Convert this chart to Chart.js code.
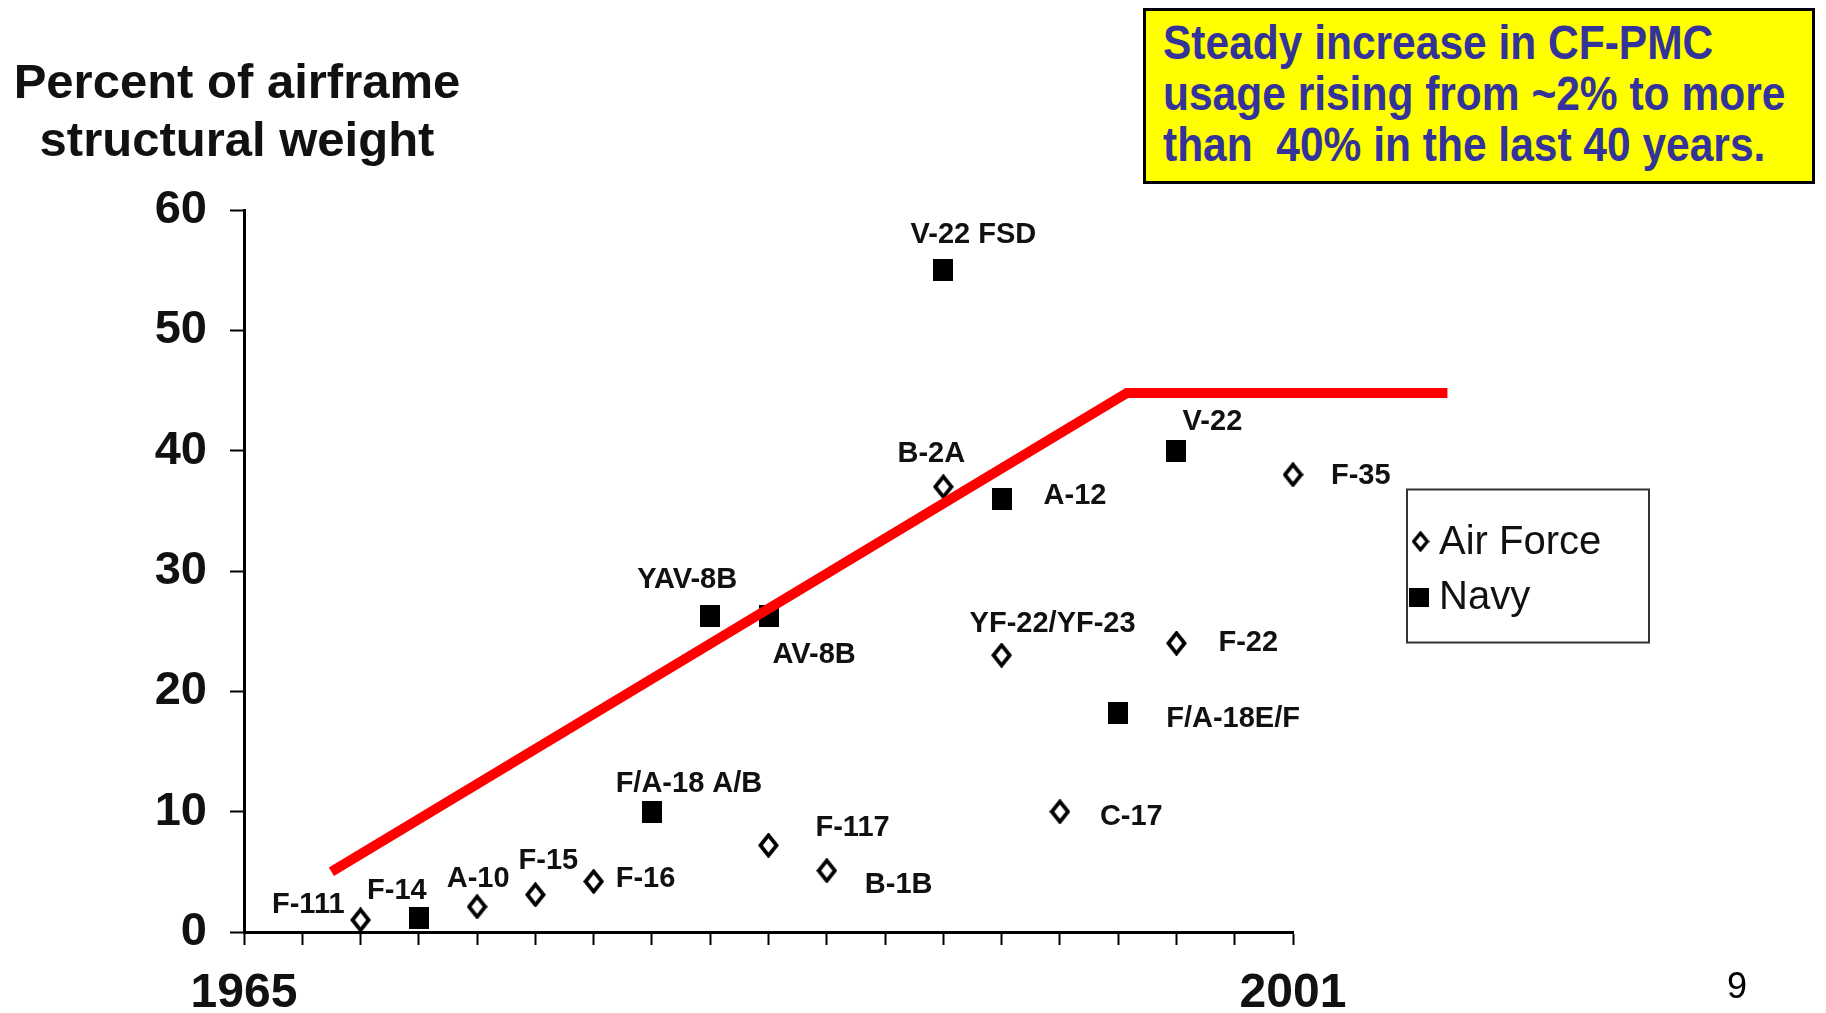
<!DOCTYPE html>
<html>
<head>
<meta charset="utf-8">
<script src="https://cdn.jsdelivr.net/npm/chart.js@4.4.1/dist/chart.umd.min.js"></script>
<style>
  html, body { margin: 0; padding: 0; background: #fff; }
  #wrap { position: relative; width: 1826px; height: 1013px; overflow: hidden; font-family: "Liberation Sans", Arial, sans-serif; }
  #chart { position: absolute; left: 0; top: 0; }
  #ytitle { position: absolute; left: 0; top: 52px; width: 474px; text-align: center; font-weight: bold; font-size: 49px; line-height: 58px; color: #111; }
  #note { position: absolute; left: 1143px; top: 8px; width: 666px; height: 170px; background: #ffff00; border: 3px solid #000; }
  #note div { position: absolute; left: 17px; top: 7px; white-space: pre; font-weight: bold; font-size: 42.5px; line-height: 44px; color: #333399; transform: scaleY(1.15); transform-origin: 0 0; }
  #page { position: absolute; left: 1727px; top: 968px; font-size: 36px; line-height: 36px; color: #000; }
</style>
</head>
<body>
<div id="wrap">
  <canvas id="chart" width="1826" height="1013"></canvas>
  <div id="ytitle">Percent of airframe<br>structural weight</div>
  <div id="note"><div>Steady increase in CF-PMC
usage rising from ~2% to more
than  40% in the last 40 years.</div></div>
  <div id="page">9</div>
</div>
<script>
// Air Force programs (open diamonds)
const afNames  = ['F-111', 'A-10', 'F-15', 'F-16', 'F-117', 'B-1B', 'B-2A', 'YF-22/YF-23', 'C-17', 'F-22', 'F-35'];
const afYears  = [1969, 1973, 1975, 1977, 1983, 1985, 1989, 1991, 1993, 1997, 2001];
const afValues = [1, 2.1, 3.1, 4.2, 7.2, 5.1, 37, 23, 10, 24, 38];

// Navy programs (filled squares)
const navyNames  = ['F-14', 'F/A-18 A/B', 'YAV-8B', 'AV-8B', 'V-22 FSD', 'A-12', 'F/A-18E/F', 'V-22'];
const navyYears  = [1971, 1979, 1981, 1983, 1989, 1991, 1995, 1997];
const navyValues = [1.2, 10, 26.3, 26.3, 55, 36, 18.2, 40];

// Trend line: rise then plateau
const trendYears  = [1968, 1995.3, 2006.3];
const trendValues = [5, 44.8, 44.8];

const legendNames = ['Air Force', 'Navy'];
const yearEnds = [1965, 2001];

// where each name sits next to its marker: [dx, dy, align]
const labelPlace = {
  'F-111': [-16, -7, 'right'],
  'F-14': [-22, -19, 'center'],
  'A-10': [1, -20, 'center'],
  'F-15': [13, -26, 'center'],
  'F-16': [22, 6, 'left'],
  'F/A-18 A/B': [37, -20, 'center'],
  'YAV-8B': [-23, -28, 'center'],
  'AV-8B': [4, 47, 'left'],
  'F-117': [47, -9, 'left'],
  'B-1B': [38, 22, 'left'],
  'V-22 FSD': [30, -27, 'center'],
  'B-2A': [-12, -25, 'center'],
  'A-12': [42, 5, 'left'],
  'YF-22/YF-23': [51, -23, 'center'],
  'C-17': [40, 13, 'left'],
  'F/A-18E/F': [48, 14, 'left'],
  'V-22': [36, -21, 'center'],
  'F-22': [42, 8, 'left'],
  'F-35': [38, 9, 'left']
};

const FONT = '"Liberation Sans", Arial, sans-serif';

function diamond(w, h, lw) {
  const c = document.createElement('canvas');
  c.width = w; c.height = h;
  const g = c.getContext('2d');
  const p = lw / 2 + 0.5;
  g.beginPath();
  g.moveTo(w / 2, p);
  g.lineTo(w - p, h / 2);
  g.lineTo(w / 2, h - p);
  g.lineTo(p, h / 2);
  g.closePath();
  g.fillStyle = '#fff';
  g.fill();
  g.lineWidth = lw;
  g.strokeStyle = '#000';
  g.stroke();
  return c;
}

function block(w, h) {
  const c = document.createElement('canvas');
  c.width = w; c.height = h;
  const g = c.getContext('2d');
  g.fillStyle = '#000';
  g.fillRect(0, 0, w, h);
  return c;
}

const afMark = diamond(21, 25, 3.8);
const navyMark = block(20, 22);
const afKey = diamond(18, 21, 3.4);
const navyKey = block(20, 19);

const toXY = (xs, ys) => xs.map((v, i) => ({ x: v, y: ys[i] }));

const pointNames = {
  id: 'pointNames',
  afterDatasetsDraw(chart) {
    const { ctx, scales: { x, y } } = chart;
    ctx.save();
    ctx.font = 'bold 29px ' + FONT;
    ctx.fillStyle = '#111';
    ctx.textBaseline = 'alphabetic';
    [[afNames, afYears, afValues], [navyNames, navyYears, navyValues]].forEach(([names, years, vals]) => {
      names.forEach((n, i) => {
        const o = labelPlace[n];
        ctx.textAlign = o[2];
        ctx.fillText(n, x.getPixelForValue(years[i]) + o[0], y.getPixelForValue(vals[i]) + o[1]);
      });
    });
    ctx.restore();
  }
};

// boxed key on the right
const keyBox = {
  id: 'keyBox',
  afterDraw(chart) {
    const ctx = chart.ctx;
    ctx.save();
    ctx.strokeStyle = '#333';
    ctx.lineWidth = 2;
    ctx.strokeRect(1407, 489.5, 242, 153);
    ctx.drawImage(afKey, 1420.5 - afKey.width / 2, 541.5 - afKey.height / 2);
    ctx.drawImage(navyKey, 1419 - navyKey.width / 2, 597.5 - navyKey.height / 2);
    ctx.font = '40px ' + FONT;
    ctx.fillStyle = '#111';
    ctx.textAlign = 'left';
    ctx.textBaseline = 'alphabetic';
    ctx.fillText(legendNames[0], 1439, 554);
    ctx.fillText(legendNames[1], 1439, 609);
    ctx.restore();
  }
};

new Chart(document.getElementById('chart'), {
  type: 'scatter',
  data: {
    datasets: [
      {
        type: 'line',
        label: 'Trend',
        data: toXY(trendYears, trendValues),
        borderColor: '#ff0000',
        borderWidth: 10,
        borderCapStyle: 'butt',
        borderJoinStyle: 'miter',
        pointRadius: 0,
        fill: false,
        clip: false,
        order: 0
      },
      {
        label: legendNames[0],
        data: toXY(afYears, afValues),
        pointStyle: afMark,
        pointRadius: 10,
        clip: false,
        order: 1
      },
      {
        label: legendNames[1],
        data: toXY(navyYears, navyValues),
        pointStyle: navyMark,
        pointRadius: 10,
        clip: false,
        order: 1
      }
    ]
  },
  options: {
    responsive: false,
    animation: false,
    layout: { padding: { top: 210, right: 533, left: 0, bottom: 0 } },
    plugins: {
      legend: { display: false },
      tooltip: { enabled: false },
      title: { display: false }
    },
    scales: {
      x: {
        type: 'linear',
        min: 1965,
        max: 2001,
        afterFit: (s) => { s.height = 81; },
        border: { display: true, color: '#000', width: 3 },
        grid: { drawOnChartArea: false, drawTicks: true, tickLength: 13, tickWidth: 2, tickColor: '#000' },
        ticks: {
          stepSize: 2,
          autoSkip: false,
          maxRotation: 0,
          padding: 20,
          color: '#111',
          font: { family: FONT, size: 48, weight: 'bold' },
          callback: (v) => (yearEnds.includes(v) ? String(v) : '')
        }
      },
      y: {
        min: 0,
        max: 60,
        afterFit: (s) => { s.width = 244; },
        border: { display: true, color: '#000', width: 3 },
        grid: { drawOnChartArea: false, drawTicks: true, tickLength: 14, tickWidth: 2, tickColor: '#000' },
        ticks: {
          stepSize: 10,
          padding: 23,
          color: '#111',
          font: { family: FONT, size: 47, weight: 'bold' }
        }
      }
    }
  },
  plugins: [pointNames, keyBox]
});
</script>
</body>
</html>
